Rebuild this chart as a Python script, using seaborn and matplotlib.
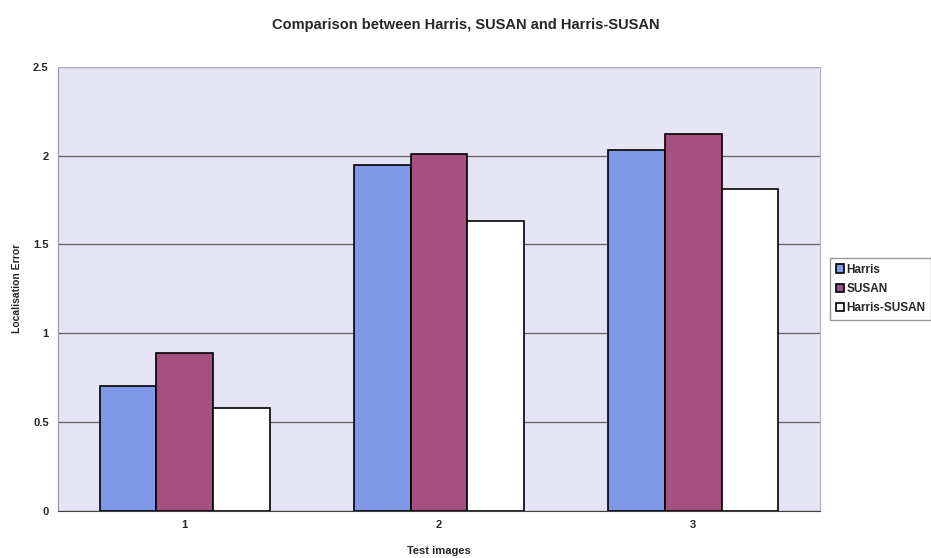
import pandas as pd
import matplotlib.pyplot as plt
import seaborn as sns

# Values
images = ["1", "2", "3"]
harris = [0.70, 1.95, 2.03]
susan = [0.89, 2.01, 2.12]
harris_susan = [0.58, 1.63, 1.81]
methods = ["Harris", "SUSAN", "Harris-SUSAN"]
colors = ["#8098E8", "#A5507F", "#FFFFFF"]


def main():
    df = pd.DataFrame({
        "image": images * 3,
        "method": [m for m in methods for _ in images],
        "error": harris + susan + harris_susan,
    })

    sns.set_style("white")
    plt.rcParams["font.family"] = ["Liberation Sans", "DejaVu Sans"]

    fig, ax = plt.subplots(figsize=(9.31, 5.58), dpi=100)
    fig.subplots_adjust(left=0.062, right=0.881, top=0.88, bottom=0.085)

    sns.barplot(data=df, x="image", y="error", hue="method", hue_order=methods,
                palette=colors, width=0.67, saturation=1, edgecolor="black",
                linewidth=1.2, ax=ax, zorder=3)

    ax.set_facecolor("#E4E4F4")
    ax.set_ylim(0, 2.5)
    ax.set_yticks([0, 0.5, 1, 1.5, 2, 2.5])
    ax.set_yticklabels(["0", "0.5", "1", "1.5", "2", "2.5"])
    ax.yaxis.grid(True, color="#606060", linewidth=0.9, zorder=0)
    ax.set_axisbelow(True)
    for side in ["top", "right"]:
        ax.spines[side].set_color("#B0B0C8")
    ax.spines["left"].set_color("#9090A8")
    ax.spines["bottom"].set_color("#404040")
    ax.tick_params(axis="both", labelsize=8, length=3, color="#606060")
    for lbl in ax.get_xticklabels() + ax.get_yticklabels():
        lbl.set_fontweight("bold")

    ax.set_xlabel("Test images", fontsize=8, fontweight="bold", labelpad=12)
    ax.set_ylabel("Localisation Error", fontsize=7.5, fontweight="bold", labelpad=8)
    fig.suptitle("Comparison between Harris, SUSAN and Harris-SUSAN",
                 x=0.5, y=0.968, fontsize=10.5, fontweight="bold")

    leg = ax.legend(loc="center left", bbox_to_anchor=(1.005, 0.5), fontsize=8.5,
                    frameon=True, fancybox=False, edgecolor="#808080",
                    handlelength=0.7, handleheight=0.7, handletextpad=0.2,
                    borderpad=0.5, labelspacing=0.6)
    for t in leg.get_texts():
        t.set_fontweight("bold")

    fig.savefig("out.png", dpi=100, facecolor="white")
    plt.close(fig)


if __name__ == "__main__":
    main()
